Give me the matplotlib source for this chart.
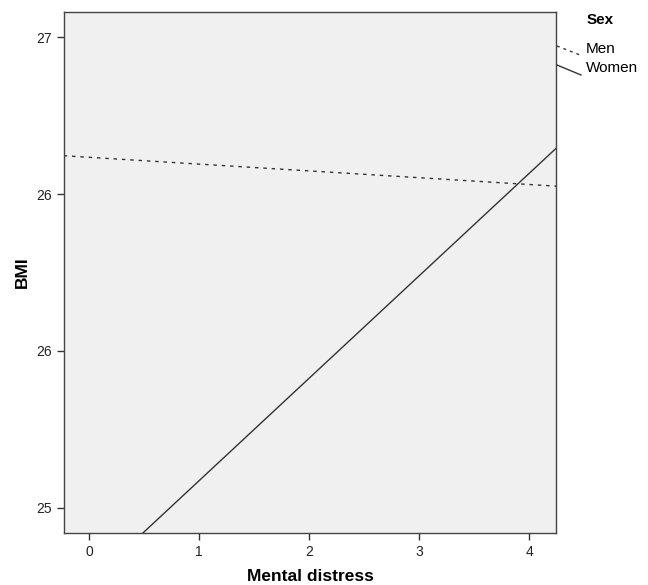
import matplotlib
matplotlib.use("Agg")
import matplotlib.pyplot as plt
from matplotlib.lines import Line2D

plt.rcParams['font.family'] = ['Liberation Sans', 'DejaVu Sans']

# Data (fit lines)
mental_distress = [-0.23, 4.25]
men_bmi = [26.372, 26.275]
women_bmi = [24.935, 26.397]
x_ticks = [0, 1, 2, 3, 4]
y_ticks = [25.25, 25.75, 26.25, 26.75]
y_tick_labels = ["25", "26", "26", "27"]
series_names = ["Men", "Women"]

fig = plt.figure(figsize=(6.48, 5.85), dpi=100)
ax = fig.add_axes([0.0988, 0.0889, 0.7592, 0.8906])
ax.set_facecolor('#f0f0f0')

ax.plot(mental_distress, men_bmi, color='#333333', lw=1.0, ls=(0, (2.5, 3.5)))
ax.plot(mental_distress, women_bmi, color='#333333', lw=1.0, ls='-')

ax.set_xlim(-0.227, 4.245)
ax.set_ylim(25.170, 26.830)
ax.set_xticks(x_ticks)
ax.set_yticks(y_ticks)
ax.set_yticklabels(y_tick_labels)
ax.tick_params(axis='both', direction='out', length=5, width=1, color='#333333',
               labelsize=10, labelcolor='#222222')
for s in ax.spines.values():
    s.set_color('#444444')
    s.set_linewidth(1.0)

ax.set_xlabel('Mental distress', fontsize=12.5, fontweight='bold', labelpad=7)
ax.set_ylabel('BMI', fontsize=12.5, fontweight='bold', labelpad=5)

# Legend outside right
W, H = 648, 585
def fx(px):
    return px / W
def fy(py):
    return 1 - py / H
fig.text(fx(587), fy(20), 'Sex', fontsize=11, fontweight='bold', va='center', ha='left')
fig.add_artist(Line2D([fx(557), fx(580)], [fy(46), fy(55)], transform=fig.transFigure,
                      color='#333333', lw=1.0, ls=(0, (2, 3))))
fig.text(fx(586), fy(49), series_names[0], fontsize=11, va='center', ha='left')
fig.add_artist(Line2D([fx(557), fx(581)], [fy(65), fy(75)], transform=fig.transFigure,
                      color='#333333', lw=1.0, ls='-'))
fig.text(fx(586), fy(68), series_names[1], fontsize=11, va='center', ha='left')

fig.savefig('out.png', dpi=100, facecolor='white')
